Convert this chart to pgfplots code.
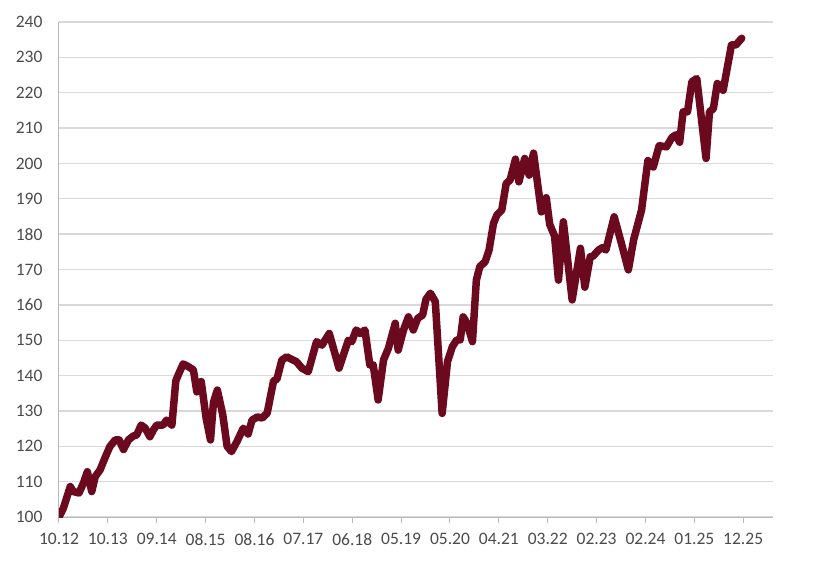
\documentclass[border=0pt]{standalone}
\usepackage{pgfplots}
\pgfplotsset{compat=1.18}
\usepackage{fontspec}
\setmainfont{Carlito}
\definecolor{maroon}{RGB}{107,10,30}
\definecolor{gridgray}{RGB}{217,217,217}
\definecolor{labelgray}{RGB}{75,75,75}
\begin{document}
\begin{tikzpicture}[x=1pt,y=1pt]
\path[use as bounding box] (-59,-46) rectangle (754,517);
\begin{axis}[
  at={(0,0)}, anchor=south west,
  scale only axis, width=714pt, height=495pt,
  xmin=0, xmax=14.61, ymin=100, ymax=240,
  ytick={100,110,...,240},
  xtick={0,1,...,14},
  xticklabels={10.12,10.13,09.14,08.15,08.16,07.17,06.18,05.19,05.20,04.21,03.22,02.23,02.24,01.25,12.25},
  axis x line*=bottom, axis y line*=left,
  axis line style={draw=gridgray!85!black, line width=1pt, -},
  ymajorgrids, major grid style={draw=gridgray, line width=1.3pt},
  tick align=outside, major tick length=6pt,
  xtick style={draw=gridgray!85!black, line width=1pt},
  ytick style={draw=none},
  tick label style={font=\fontsize{17.5}{17.5}\selectfont, text=labelgray},
  yticklabel style={xshift=-7pt},
  xticklabel style={yshift=-7pt},
  /pgf/number format/assume math mode=true,
]
\addplot[maroon, line width=7.5pt, line join=round, line cap=round, no marks] coordinates {
(0.00,100.0) (0.09,102.5) (0.23,108.6) (0.29,107.2) (0.41,106.8) (0.50,109.6)
(0.58,112.8) (0.67,107.2) (0.74,111.4) (0.84,113.3) (0.94,116.7) (1.04,119.9)
(1.15,121.8) (1.23,121.8) (1.32,119.1) (1.42,121.8) (1.52,122.9) (1.59,123.2)
(1.68,126.0) (1.76,125.2) (1.86,122.7) (1.93,124.6) (2.00,126.0) (2.13,126.0)
(2.20,127.4) (2.31,126.0) (2.39,138.5) (2.45,140.5) (2.54,143.3) (2.65,142.5)
(2.75,141.6) (2.82,135.4) (2.91,138.3) (3.01,128.0) (3.10,121.8) (3.16,132.4)
(3.24,135.9) (3.35,129.0) (3.44,120.0) (3.53,118.5) (3.64,121.3) (3.77,125.1)
(3.87,123.5) (3.95,127.4) (4.06,128.3) (4.16,128.0) (4.26,129.4) (4.39,138.5)
(4.46,139.0) (4.56,144.4) (4.66,145.3) (4.86,143.9) (4.97,142.1) (5.10,141.1)
(5.27,149.6) (5.38,148.6) (5.53,151.9) (5.73,142.1) (5.92,150.0) (5.99,149.6)
(6.08,152.9) (6.16,151.9) (6.26,152.9) (6.36,143.0) (6.43,143.0) (6.53,133.1)
(6.64,144.4) (6.74,147.7) (6.88,154.8) (6.94,147.2) (7.05,152.9) (7.15,156.6)
(7.25,152.9) (7.34,156.2) (7.44,157.1) (7.51,161.6) (7.60,163.3) (7.70,160.9)
(7.84,129.3) (7.95,144.0) (8.05,148.2) (8.14,150.1) (8.21,150.1) (8.27,156.6)
(8.35,154.8) (8.46,149.6) (8.54,167.0) (8.61,170.8) (8.72,172.2) (8.80,175.5)
(8.89,183.0) (8.96,185.4) (9.06,186.8) (9.15,194.3) (9.23,195.3) (9.34,201.2)
(9.41,194.8) (9.53,201.4) (9.62,196.7) (9.71,202.9) (9.87,186.3) (9.97,190.3)
(10.04,182.8) (10.14,179.5) (10.22,167.0) (10.32,183.5) (10.50,161.4) (10.67,176.0)
(10.76,165.0) (10.87,173.6) (10.93,173.8) (11.04,175.5) (11.12,176.2) (11.19,175.5)
(11.36,184.9) (11.50,177.8) (11.65,169.9) (11.76,178.5) (11.92,186.8) (12.05,200.8)
(12.16,199.0) (12.28,205.0) (12.43,204.7) (12.54,207.3) (12.62,208.1) (12.70,206.0)
(12.77,214.6) (12.86,214.6) (12.95,223.1) (13.05,224.0) (13.24,201.4) (13.31,214.6)
(13.39,215.5) (13.47,222.6) (13.59,220.7) (13.76,233.5) (13.85,233.5) (13.97,235.4)
};
\end{axis}
\end{tikzpicture}
\end{document}
